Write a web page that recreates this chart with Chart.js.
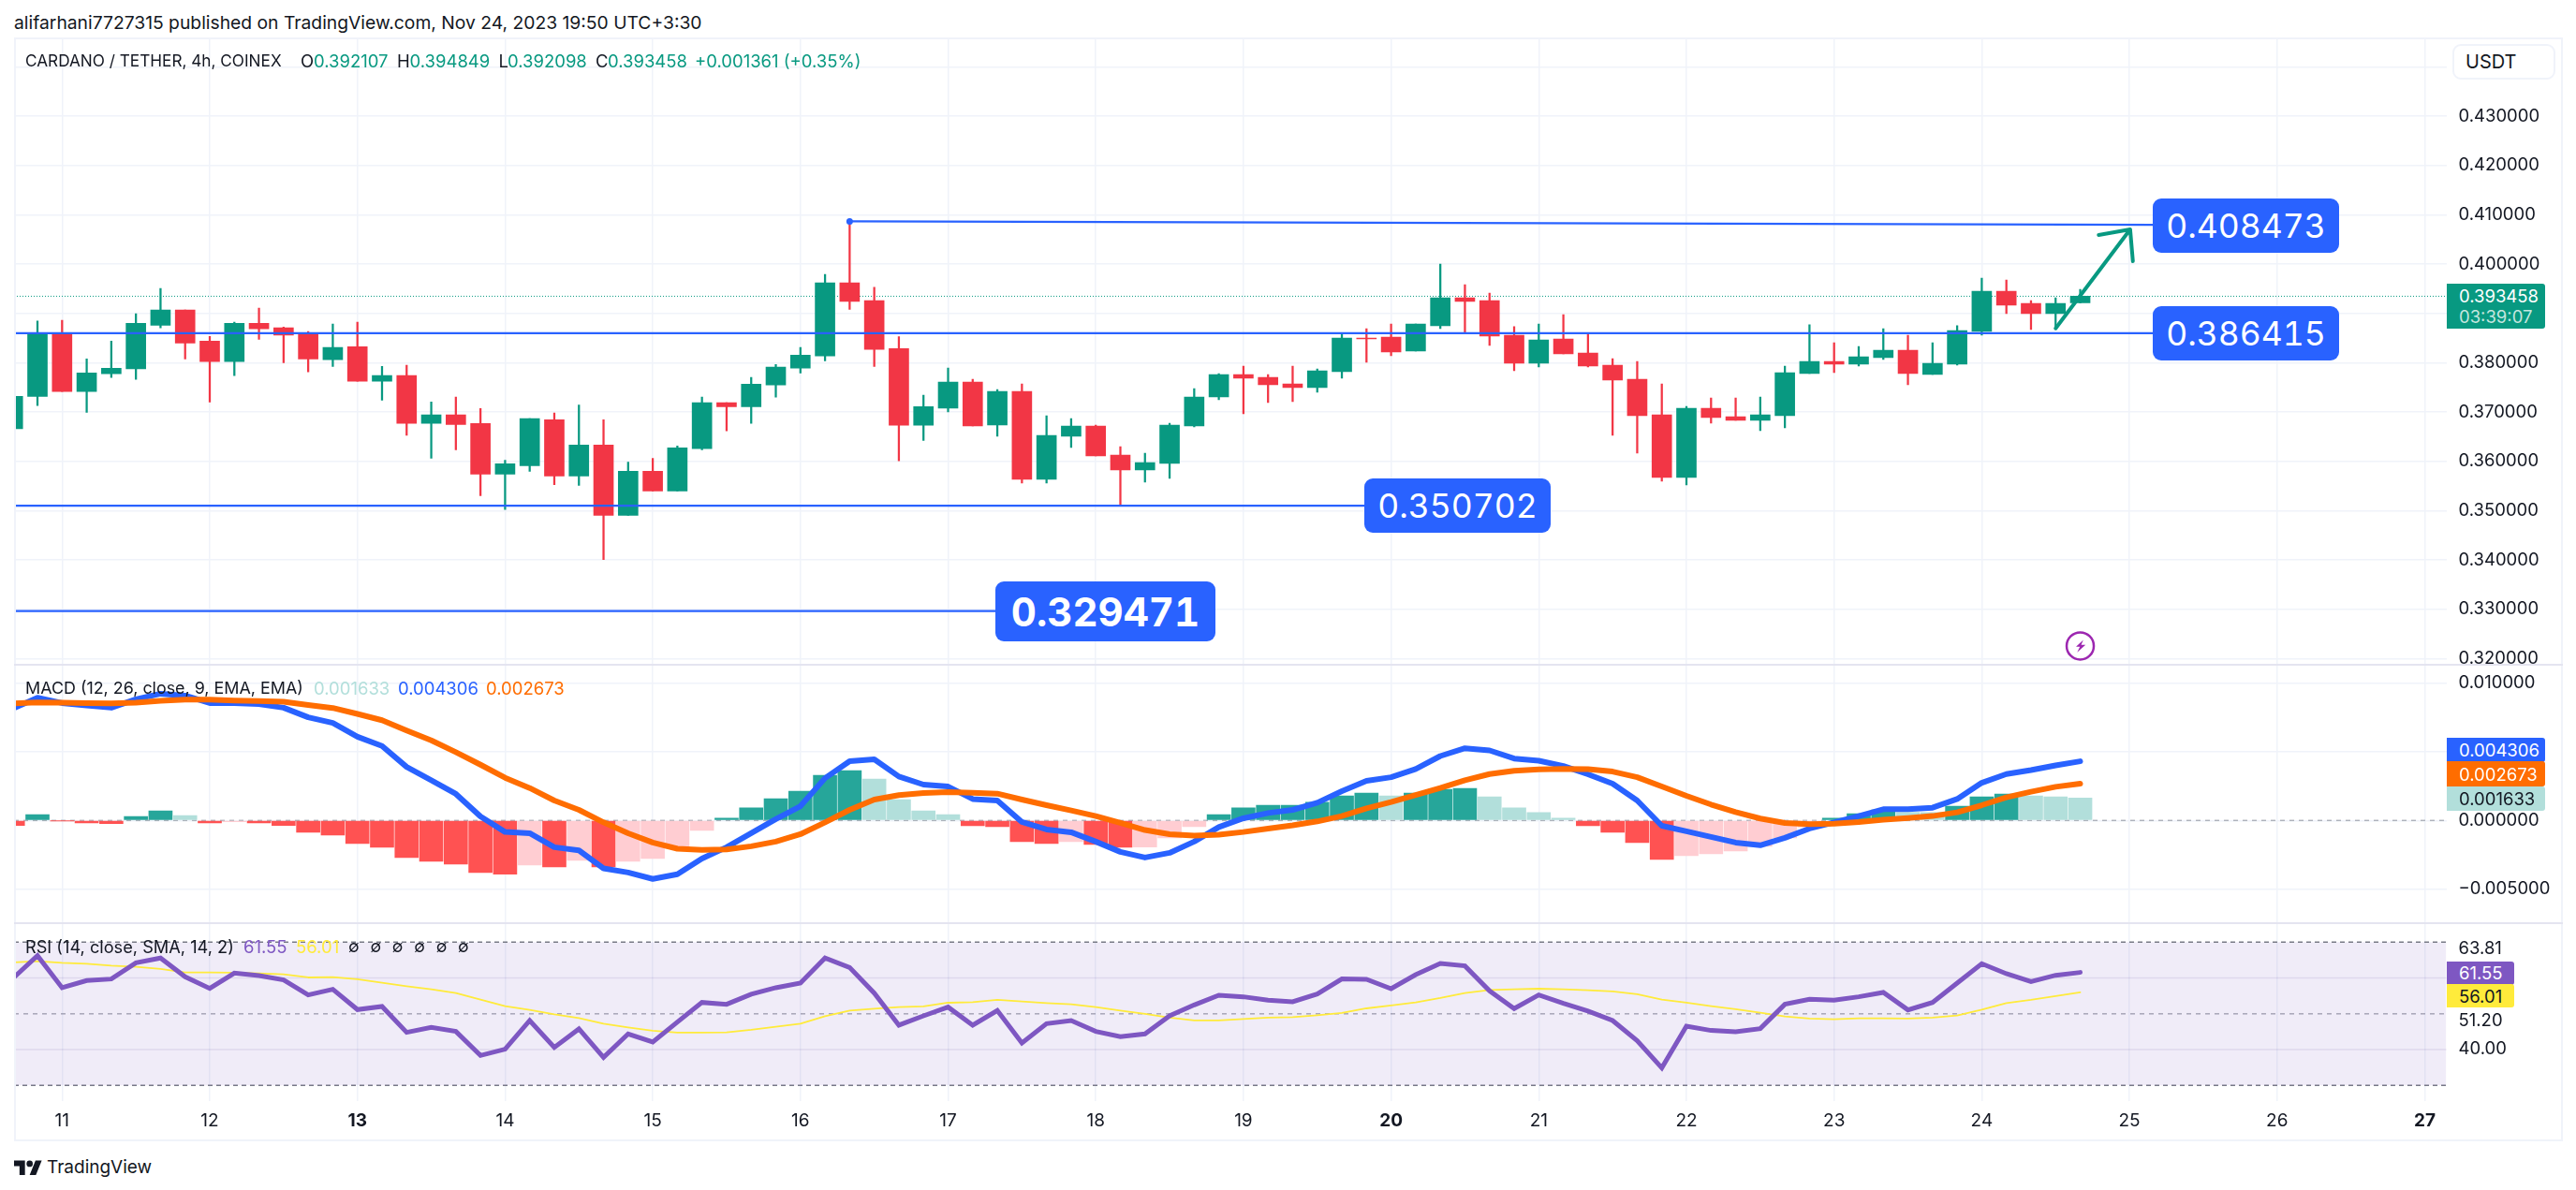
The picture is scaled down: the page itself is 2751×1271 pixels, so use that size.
<!DOCTYPE html>
<html><head><meta charset="utf-8">
<script src="https://cdn.jsdelivr.net/npm/chart.js@4/dist/chart.umd.js"></script>
<style>
html,body{margin:0;padding:0;background:#fff;width:2751px;height:1271px;overflow:hidden}
body{position:relative;font-family:Inter,sans-serif;color:#131722}
canvas{position:absolute;left:0}
.t{position:absolute;white-space:nowrap;font-size:18.5px;line-height:24px;transform:translateY(-50%)}
.f{position:absolute;background:#f0f3fa}
.s{position:absolute;background:#e4e4f0}
.box{position:absolute;background:#2962ff;color:#fff;border-radius:9px;display:flex;align-items:center;justify-content:center;font-size:35.5px;font-variant-numeric:tabular-nums}
.tag{position:absolute;left:2613px;display:flex;align-items:center;padding-left:13px;box-sizing:border-box;font-size:18.5px;border-radius:0 3px 3px 0}
.g{color:#089981}
</style></head><body>
<canvas id="mainC" style="top:41px"></canvas>
<canvas id="macdC" style="top:710px"></canvas>
<canvas id="rsiC" style="top:986px"></canvas>

<div class="f" style="left:15px;top:40px;width:2722px;height:2px"></div>
<div class="f" style="left:15px;top:40px;width:2px;height:1179px"></div>
<div class="f" style="left:2735px;top:40px;width:2px;height:1179px"></div>
<div class="f" style="left:15px;top:1217px;width:2722px;height:2px"></div>
<div class="s" style="left:15px;top:709px;width:2722px;height:2px"></div>
<div class="s" style="left:15px;top:985px;width:2722px;height:2px"></div>

<div class="t" style="left:15px;top:24px;font-size:19.3px">alifarhani7727315 published on TradingView.com, Nov 24, 2023 19:50 UTC+3:30</div>
<div class="t" style="left:27px;top:64.5px;font-size:17.2px">CARDANO / TETHER, 4h, COINEX</div>
<div class="t" style="left:321px;top:64.5px">O</div><div class="t g" style="left:335px;top:64.5px">0.392107</div>
<div class="t" style="left:424px;top:64.5px">H</div><div class="t g" style="left:437.5px;top:64.5px">0.394849</div>
<div class="t" style="left:532.5px;top:64.5px">L</div><div class="t g" style="left:542px;top:64.5px">0.392098</div>
<div class="t" style="left:636px;top:64.5px">C</div><div class="t g" style="left:649px;top:64.5px">0.393458</div>
<div class="t g" style="left:742px;top:64.5px">+0.001361 (+0.35%)</div>

<div style="position:absolute;left:2619px;top:46.5px;width:110px;height:38.5px;box-sizing:border-box;border:2px solid #f0f3fa;border-radius:9px;background:#fff;font-size:20px;line-height:34px;padding-left:12px">USDT</div>

<div class="box" style="left:2299px;top:212px;width:199px;height:58px">0.408473</div>
<div class="box" style="left:2299px;top:327px;width:199px;height:58px">0.386415</div>
<div class="box" style="left:1457px;top:511px;width:199px;height:58px">0.350702</div>
<div class="box" style="left:1063px;top:621px;width:235px;height:64px;font-size:42px;font-weight:700">0.329471</div>

<div class="tag" style="top:303px;height:48px;width:105px;background:#089981;color:#fff;display:block;padding-top:2px;line-height:22px">0.393458<br><span style="color:#c4e6df">03:39:07</span></div>

<div class="t" style="left:27px;top:734.7px;font-size:17.9px">MACD (12, 26, close, 9, EMA, EMA)</div>
<div class="t" style="left:335px;top:734.7px;color:#b2dfdb">0.001633</div>
<div class="t" style="left:425px;top:734.7px;color:#2962ff">0.004306</div>
<div class="t" style="left:519px;top:734.7px;color:#ff6d00">0.002673</div>
<div class="tag" style="top:788px;height:25.5px;width:105px;background:#2962ff;color:#fff">0.004306</div>
<div class="tag" style="top:813px;height:27px;width:105px;background:#ff6d00;color:#fff">0.002673</div>
<div class="tag" style="top:840px;height:26px;width:105px;background:#b2dfdb;color:#131722">0.001633</div>

<div class="t" style="left:27px;top:1011px;font-size:18.2px">RSI (14, close, SMA, 14, 2)</div>
<div class="t" style="left:260px;top:1011px;color:#7e57c2">61.55</div>
<div class="t" style="left:316px;top:1011px;color:#ffeb3b">56.01</div>
<div class="t" style="left:372px;top:1011px;word-spacing:7px;font-size:17px">∅ ∅ ∅ ∅ ∅ ∅</div>
<div class="tag" style="top:1027px;height:24.5px;width:72px;background:#7e57c2;color:#fff">61.55</div>
<div class="tag" style="top:1051px;height:25px;width:72px;background:#ffeb3b;color:#131722">56.01</div>

<svg style="position:absolute;left:15px;top:1236px" width="30" height="19" viewBox="0 0 36 22" preserveAspectRatio="none"><path fill="#131722" d="M14 22H7V11H0V4h14v18zM28 22h-8l7.5-18h8L28 22z"/><circle fill="#131722" cx="20" cy="8" r="4"/></svg>
<div class="t" style="left:50px;top:1247px;font-size:19px;font-weight:400">TradingView</div>

<script>
// ---- data ----
const firstCandle = -2;
const opens = [.36661,.37315,.38609,.37413,.37774,.37872,.38759,.39067,.38436,.38022,.38797,.38706,.38571,.3806,.38323,.37624,.37736,.36766,.36939,.36766,.35736,.35909,.36841,.35698,.3633,.34901,.35796,.35398,.36255,.37187,.37105,.37548,.37887,.38135,.39616,.39255,.38285,.36729,.37075,.37607,.36734,.37417,.35632,.36506,.36715,.36126,.35822,.35955,.36715,.37303,.37759,.37702,.37569,.37493,.37816,.385,.38519,.38234,.38747,.39316,.39259,.38557,.37987,.38481,.38196,.37949,.37664,.36942,.3567,.37075,.36904,.36829,.36923,.37778,.38025,.37968,.38101,.38253,.37759,.37968,.38633,.39449,.39202,.38993,.392107];
const highs = [.37315,.38842,.38857,.38075,.38436,.38992,.39504,.39067,.38533,.38819,.39105,.38721,.38631,.38782,.38819,.37924,.37947,.37202,.373,.37067,.36022,.36864,.36977,.37142,.36841,.35984,.36059,.36308,.373,.37187,.37699,.37962,.38308,.39789,.40887,.39526,.38526,.37338,.37892,.37664,.37455,.37569,.36923,.36867,.36734,.36297,.36164,.36772,.37474,.37778,.3793,.37759,.3793,.37873,.38576,.3869,.38784,.38784,.4,.39582,.39411,.38728,.38784,.38974,.38576,.38082,.38025,.37569,.37113,.37284,.37284,.37303,.3793,.38766,.38405,.38329,.3869,.38557,.38405,.38747,.39715,.39677,.39259,.39316,.394849];
const lows = [.36661,.37127,.37413,.36992,.37699,.37661,.38706,.38075,.37202,.37736,.38473,.38,.37812,.37924,.37624,.3724,.36526,.36059,.36232,.353,.35022,.35796,.35525,.3551,.34006,.34901,.35398,.35398,.36232,.36616,.36766,.373,.37789,.38037,.39082,.37924,.36007,.3642,.37,.36715,.36506,.35556,.35556,.36278,.36107,.35113,.35575,.35651,.36696,.37246,.36961,.37189,.37208,.37398,.37683,.38006,.38139,.38234,.3869,.38595,.38348,.37835,.37911,.38177,.37911,.36525,.36164,.35594,.35518,.36772,.36829,.3662,.36677,.37778,.37797,.3793,.38063,.3755,.37759,.37949,.38557,.38993,.3867,.38709,.392098];
const closes = [.37315,.38609,.37413,.37789,.37887,.38797,.39067,.38398,.38022,.38797,.38684,.38556,.38075,.38308,.37624,.37736,.36766,.36939,.36744,.35736,.35947,.36864,.35698,.3633,.34901,.35796,.35398,.3627,.37187,.37105,.37563,.37909,.3815,.39616,.3924,.3827,.36729,.37105,.37607,.36715,.37417,.35632,.36525,.36715,.36107,.35822,.35974,.36734,.37303,.37759,.37683,.3755,.37493,.37835,.385,.38481,.38215,.38784,.39316,.3924,.38538,.37987,.38462,.38177,.3793,.37645,.36923,.3567,.37075,.36885,.36829,.36942,.37797,.38025,.37968,.3812,.38253,.37778,.37987,.38652,.39449,.39164,.38993,.39202,.393458];

const macdHist = [-.00036,.00043,-.00002,-.00018,-.00023,.00029,.0007,.00036,-.00018,-.00009,-.00018,-.00036,-.00086,-.00107,-.00168,-.00195,-.0027,-.00297,-.00318,-.00379,-.00392,-.00324,-.00338,-.0029,-.00338,-.00297,-.00277,-.00202,-.00073,.00016,.00091,.00159,.00213,.00329,.00363,.00302,.00152,.0007,.00043,-.00039,-.00045,-.00154,-.00168,-.00154,-.00175,-.00195,-.00193,-.00127,-.00045,.00043,.00091,.00111,.00111,.00132,.00179,.002,.00179,.002,.00227,.00234,.00172,.00091,.00057,.00016,-.00039,-.00086,-.00161,-.00284,-.00256,-.00243,-.00222,-.00188,-.00127,-.00048,.00016,.0005,.00077,.00059,.00057,.00104,.00172,.00193,.00179,.00172,.001633];
const macdLine = [.00814,.00894,.00855,.00837,.00821,.00882,.00923,.00909,.00855,.00855,.00848,.00821,.00751,.0071,.0061,.00542,.0039,.00293,.00193,.00029,-.00084,-.00093,-.00195,-.00218,-.00349,-.00379,-.00426,-.00392,-.00277,-.00195,-.00093,.00009,.00104,.00308,.00431,.00445,.0032,.00261,.00247,.00156,.00145,-.00011,-.00066,-.00086,-.00154,-.00229,-.0027,-.00236,-.00154,-.00048,.00016,.00054,.00077,.00129,.00213,.00288,.00315,.00374,.00469,.00526,.0051,.00451,.00435,.00397,.00336,.00268,.00145,-.00039,-.00079,-.0012,-.00161,-.00181,-.00127,-.00059,-.00014,.00032,.00082,.00082,.00093,.00156,.00274,.00338,.00367,.00401,.004306];
const macdSignal = [.00853,.0086,.00857,.00855,.00853,.00857,.00871,.0088,.0088,.00873,.00869,.00864,.00841,.00819,.00776,.0073,.00655,.00583,.00497,.00406,.00311,.00236,.00145,.00077,-.00014,-.00093,-.00161,-.00206,-.00215,-.00211,-.00188,-.00154,-.001,-.00014,.00077,.00152,.00184,.002,.00206,.00202,.00195,.00152,.00111,.00073,.00032,-.00018,-.0007,-.001,-.00111,-.00104,-.00084,-.00059,-.00036,-.00007,.00032,.00088,.00134,.00186,.00236,.00293,.00338,.00361,.00372,.00376,.00374,.00356,.00315,.00247,.00179,.00116,.00061,.00014,-.00018,-.00027,-.00023,-.00011,.00005,.00018,.00032,.00059,.00111,.00168,.00209,.00245,.002673];

const rsiLine = [59.89,66.25,57.28,59.28,59.72,64.25,65.56,60.33,57.1,61.37,60.67,59.45,55.27,56.84,51.18,52.05,44.81,46.21,45.08,38.36,40.11,48.13,40.63,45.77,37.84,44.38,42.11,47.69,53.18,52.66,55.45,57.28,58.58,65.56,62.94,55.79,46.82,49.43,51.87,46.82,50.91,41.85,47.25,48.13,45.08,43.59,44.38,49.43,52.48,55.18,54.75,53.79,53.35,55.53,59.72,59.63,57.01,60.94,64.07,63.38,56.4,51.44,55.27,52.92,50.74,48.13,42.46,34.88,46.56,45.34,44.99,45.86,52.66,54.05,53.79,54.75,55.97,51.09,53.18,58.58,63.99,61.2,59.02,60.76,61.55];
const rsiMa = [64.34,64.68,64.25,63.99,63.46,63.12,62.51,61.55,61.55,61.46,61.28,61.02,60.15,60.24,59.63,58.67,57.71,56.84,55.79,53.96,52.13,51.09,49.87,48.82,47.25,46.21,45.25,44.73,44.73,44.81,45.51,46.38,47.25,49.35,50.91,51.44,51.87,52.05,53.09,53.27,53.88,53.44,53.01,52.66,51.87,50.91,49.96,48.91,48.13,48.13,48.56,48.91,49.08,49.61,50.22,51.52,52.31,53.18,54.4,55.79,56.67,56.84,57.01,56.84,56.58,56.23,55.45,53.96,53.09,52.13,51.26,50.3,49.26,48.65,48.47,48.74,48.74,48.65,48.91,49.52,51.18,53.01,53.88,54.92,56.01];

const dayLabels = [11,12,13,14,15,16,17,18,19,20,21,22,23,24,25,26,27];
const boldDays = [13,20,27];
const candlesPerDay = 6;
const mainTicks = [.44,.43,.42,.41,.40,.39,.38,.37,.36,.35,.34,.33,.32];
const macdTicks = [.01,.005,0,-.005];
const macdTickLabels = ["0.010000","0.005000","0.000000","−0.005000"];
const rsiTickSpots = [68.25,48.1,40.1];
const rsiTickLabels = ["63.81","51.20","40.00"];
const rsiGuides = [70,60,50,40,30];
const currentPrice = .393458;
const levelTopX = [32,85], levelTopY = [.40865,.40795];
const levelMidX = [-2,85], levelMidY = [.38598,.38598];
const levelLowX = [-2,53], levelLowY = [.35098,.35098];
const levelBottomX = [-2,38], levelBottomY = [.32961,.32961];
const arrowX = [81,84.03,82.75,84.03,84.14];
const arrowY = [.38695,.40702,.40588,.40702,.40056];
const eventMarker = {x:82,y:.32253};

// ---- layout ----
const W = 2751, PLOT_LEFT = 15, PLOT_RIGHT = 2612.5;
const DAY_PX = 157.7, X0 = 66.3;
const xMin = (PLOT_LEFT-X0)/(DAY_PX/candlesPerDay);
const xMax = (PLOT_RIGHT-X0)/(DAY_PX/candlesPerDay);
const TICK_FONT = {family:'Inter',size:18.5};
const GRID = '#f0f3fa';
const UP = '#089981', DOWN = '#f23645';
const idx = closes.map((_,i)=>firstCandle+i);
const dayTicks = dayLabels.map((_,i)=>i*candlesPerDay);
Chart.defaults.font.family = 'Inter';
Chart.defaults.animation = false;

const series = (xs,ys)=>xs.map((x,i)=>({x,y:ys[i]}));
const lineDs = (data,color,width,extra={})=>Object.assign({type:'line',data,borderColor:color,borderWidth:width,pointRadius:0,tension:0,fill:false,borderCapStyle:'round',borderJoinStyle:'round',order:1},extra);

function xScale(showLabels){
  return {type:'linear',min:xMin,max:xMax,offset:false,
    afterBuildTicks:s=>{s.ticks=dayTicks.map(v=>({value:v}))},
    afterFit:s=>{s.height=showLabels?41:0;s.paddingLeft=0;s.paddingRight=0},
    border:{display:false},
    grid:{color:GRID,drawTicks:false,lineWidth:1.5,offset:false},
    ticks:{display:showLabels,autoSkip:false,maxRotation:0,padding:10,color:'#131722',
      callback:(v)=>dayLabels[dayTicks.indexOf(v)],
      font:c=>({family:'Inter',size:19,weight:boldDays.includes(dayLabels[c.index])?'700':'400'})}};
}
function yScale(min,max,vals,labelFn,drawGrid=true){
  return {type:'linear',position:'right',min,max,
    afterBuildTicks:s=>{s.ticks=vals.map(v=>({value:v}))},
    afterFit:s=>{s.width=W-PLOT_RIGHT;s.paddingTop=0;s.paddingBottom=0},
    border:{display:false},
    grid:{display:drawGrid,color:GRID,drawTicks:false,lineWidth:1.5},
    ticks:{autoSkip:false,padding:13,color:'#131722',font:TICK_FONT,callback:labelFn}};
}
function makeChart(id,h,datasets,scales,plugins=[]){
  const el=document.getElementById(id);
  el.style.width=W+'px'; el.style.height=h+'px';
  return new Chart(el,{type:'line',data:{datasets},plugins,options:{
    responsive:false,animation:false,devicePixelRatio:1,
    layout:{autoPadding:false,padding:{left:PLOT_LEFT,right:0,top:0,bottom:0}},
    plugins:{legend:{display:false},tooltip:{enabled:false}},
    interaction:{mode:null},
    scales}});
}
function size(id,h){const c=document.getElementById(id);c.width=W;c.height=h;}
size('mainC',669);size('macdC',276);size('rsiC',231);

const candleColor = i=>closes[i]>=opens[i]?UP:DOWN;
const markerPlugin = {id:'eventMarker',afterDatasetsDraw(ch){
  const {ctx,scales:{x,y}}=ch;
  const cx=x.getPixelForValue(eventMarker.x), cy=y.getPixelForValue(eventMarker.y);
  ctx.save();
  ctx.strokeStyle='#9c27b0';ctx.lineWidth=2.5;
  ctx.beginPath();ctx.arc(cx,cy,14.5,0,Math.PI*2);ctx.stroke();
  ctx.fillStyle='#9c27b0';ctx.beginPath();
  [[3.3,-6.5],[-4.5,.8],[-.3,.8],[-3.3,6.7],[5.7,-1.3],[1,-1.3]].forEach((p,i)=>i?ctx.lineTo(cx+p[0],cy+p[1]):ctx.moveTo(cx+p[0],cy+p[1]));
  ctx.closePath();ctx.fill();
  ctx.restore();
}};

makeChart('mainC',669,[
  lineDs(series([xMin,xMax],[currentPrice,currentPrice]),UP,1,{borderDash:[1,2],order:5,borderCapStyle:'butt'}),
  {type:'bar',grouped:false,order:4,barThickness:1.6,data:idx.map((x,i)=>({x,y:[lows[i],highs[i]]})),backgroundColor:c=>candleColor(c.dataIndex)},
  {type:'bar',grouped:false,order:3,barThickness:21,data:idx.map((x,i)=>({x,y:[opens[i],closes[i]]})),backgroundColor:c=>candleColor(c.dataIndex)},
  lineDs(series(levelTopX,levelTopY),'#2962ff',2.2,{pointRadius:c=>c.dataIndex===0?3.5:0,pointBackgroundColor:'#2962ff',pointBorderWidth:0}),
  lineDs(series(levelMidX,levelMidY),'#2962ff',2.2),
  lineDs(series(levelLowX,levelLowY),'#2962ff',2.2),
  lineDs(series(levelBottomX,levelBottomY),'#2962ff',2.2),
  lineDs(series(arrowX,arrowY),UP,4,{order:0})
],{x:xScale(false),y:yScale(.31873,.44575,mainTicks,v=>v.toFixed(6))},[markerPlugin]);

const histColor = i=>{
  const v=macdHist[i], p=i?macdHist[i-1]:v;
  return v>=0?(v>=p?'#26a69a':'#b2dfdb'):(v<=p?'#ff5252':'#ffcdd2');
};
makeChart('macdC',276,[
  lineDs(series([xMin,xMax],[0,0]),'rgba(120,123,134,.55)',1.5,{borderDash:[5,5],order:5,borderCapStyle:'butt'}),
  {type:'bar',grouped:false,order:4,barThickness:25,data:idx.map((x,i)=>({x,y:macdHist[i]})),backgroundColor:c=>histColor(c.dataIndex)},
  lineDs(series(idx,macdLine),'#2962ff',6,{order:2}),
  lineDs(series(idx,macdSignal),'#ff6d00',6,{order:1})
],{x:xScale(false),y:yScale(-.00748,.011338,macdTicks,(v,i)=>macdTickLabels[i])});

makeChart('rsiC',231,[
  lineDs(series([xMin,xMax],[rsiGuides[0],rsiGuides[0]]),'#787b86',1.5,{order:6,borderDash:[5,4],borderCapStyle:'butt',fill:{value:rsiGuides[4]},backgroundColor:'rgba(126,87,194,.115)'}),
  lineDs(series([xMin,xMax],[rsiGuides[1],rsiGuides[1]]),'rgba(120,100,170,.15)',1.5,{order:6}),
  lineDs(series([xMin,xMax],[rsiGuides[2],rsiGuides[2]]),'rgba(120,123,134,.6)',1.5,{order:6,borderDash:[5,5],borderCapStyle:'butt'}),
  lineDs(series([xMin,xMax],[rsiGuides[3],rsiGuides[3]]),'rgba(120,100,170,.15)',1.5,{order:6}),
  lineDs(series([xMin,xMax],[rsiGuides[4],rsiGuides[4]]),'#787b86',1.5,{order:6,borderDash:[5,4],borderCapStyle:'butt'}),
  lineDs(series(idx,rsiMa),'#ffeb3b',1.8,{order:2}),
  lineDs(series(idx,rsiLine),'#7e57c2',5,{order:1,borderJoinStyle:'miter'})
],{x:xScale(true),y:yScale(25.63,75.31,rsiTickSpots,(v,i)=>rsiTickLabels[i],false)});
</script>
</body></html>
